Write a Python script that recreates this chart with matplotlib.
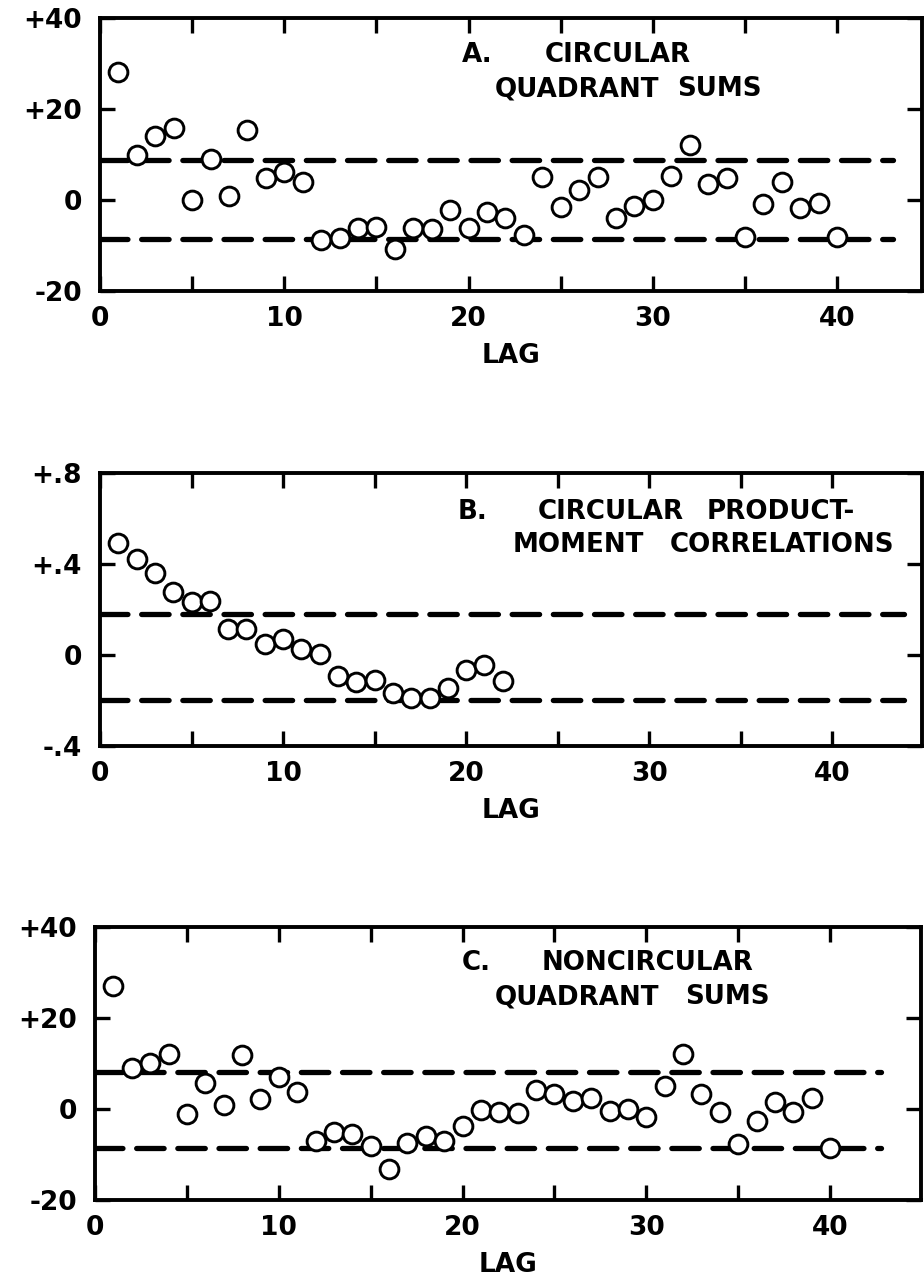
import matplotlib
matplotlib.use("Agg")
import matplotlib.pyplot as plt

# data
lags_a = list(range(1, 41))
quad_circ = [28.2, 9.9, 14.1, 15.9, 0.0, 9.0, 0.9, 15.4, 4.9, 6.2,
             4.0, -8.8, -8.4, -6.2, -5.9, -10.8, -6.1, -6.4, -2.2, -6.2,
             -2.6, -4.0, -7.7, 5.1, -1.6, 2.2, 5.1, -4.0, -1.3, 0.0,
             5.3, 12.1, 3.5, 4.8, -8.1, -0.9, 4.0, -1.8, -0.7, -8.1]
limits_a = [8.8, -8.6]

lags_b = list(range(1, 23))
corr_circ = [0.493, 0.424, 0.360, 0.279, 0.235, 0.238, 0.115, 0.115, 0.047, 0.071,
             0.025, 0.004, -0.093, -0.118, -0.110, -0.165, -0.191, -0.191, -0.147, -0.066,
             -0.044, -0.113]
limits_b = [0.181, -0.199]

lags_c = list(range(1, 41))
quad_noncirc = [27.0, 9.0, 10.1, 12.1, -1.1, 5.7, 0.9, 11.8, 2.2, 7.0,
                3.8, -7.0, -5.0, -5.4, -8.2, -13.1, -7.4, -5.9, -7.0, -3.7,
                -0.2, -0.7, -0.9, 4.2, 3.2, 1.8, 2.4, -0.5, 0.0, -1.8,
                5.1, 12.1, 3.2, -0.7, -7.6, -2.6, 1.6, -0.6, 2.4, -8.6]
limits_c = [8.1, -8.6]

quad_ticks = [-20, 0, 20, 40]
quad_labels = ["-20", "0", "+20", "+40"]
corr_ticks = [-0.4, 0.0, 0.4, 0.8]
corr_labels = ["-.4", "0", "+.4", "+.8"]

W, H = 924, 1285
FONT = "DejaVu Sans"
FS = 19
FS_T = 18.8

fig = plt.figure(figsize=(W / 100, H / 100), dpi=100)


def box(l, t, r, b):
    return [l / W, 1 - b / H, (r - l) / W, (b - t) / H]


def ftxt(s, x, y):
    # x = left edge, y = vertical centre, in image pixels
    fig.text(x / W, 1 - y / H, s, fontsize=FS_T, fontweight="bold", family=FONT,
             ha="left", va="center")


def panel(rect, xmax, lags, vals, limits, dash_end, ylim, yticks, ylabels):
    ax = fig.add_axes(rect)
    ax.set_xlim(0, xmax)
    ax.set_ylim(*ylim)
    for y in limits:
        ax.plot([0, dash_end], [y, y], color="black", lw=3.8,
                dashes=(5.2, 2.6), dash_capstyle="round", zorder=2)
    ax.plot(lags, vals, "o", ms=13.5, mfc="white", mec="black", mew=2.1,
            clip_on=False, zorder=3)
    xt = list(range(0, 45, 5))
    ax.set_xticks(xt)
    ax.set_xticklabels([str(v) if v % 10 == 0 else "" for v in xt],
                       fontsize=FS, fontweight="bold", family=FONT)
    ax.set_yticks(yticks)
    ax.set_yticklabels(ylabels, fontsize=FS, fontweight="bold", family=FONT)
    ax.tick_params(direction="in", length=11, width=2.4, top=True, right=True)
    ax.tick_params(axis="x", pad=11)
    ax.tick_params(axis="y", pad=13)
    for s in ax.spines.values():
        s.set_linewidth(2.8)
    ax.set_xlabel("LAG", fontsize=FS, fontweight="bold", family=FONT, labelpad=8)
    return ax


panel(box(100, 18, 922, 291), 44.6, lags_a, quad_circ, limits_a, 43.0,
      (-20, 40), quad_ticks, quad_labels)
ftxt("A.", 462, 55)
ftxt("CIRCULAR", 545, 55)
ftxt("QUADRANT", 495, 89)
ftxt("SUMS", 677, 89)

panel(box(100, 473, 922, 746), 44.9, lags_b, corr_circ, limits_b, 43.9,
      (-0.4, 0.8), corr_ticks, corr_labels)
ftxt("B.", 458, 512)
ftxt("CIRCULAR", 538, 512)
ftxt("PRODUCT-", 707, 512)
ftxt("MOMENT", 513, 545)
ftxt("CORRELATIONS", 670, 545)

panel(box(95, 927, 921, 1200), 44.95, lags_c, quad_noncirc, limits_c, 42.8,
      (-20, 40), quad_ticks, quad_labels)
ftxt("C.", 462, 963)
ftxt("NONCIRCULAR", 542, 963)
ftxt("QUADRANT", 495, 997)
ftxt("SUMS", 685, 997)

fig.savefig("out.png", dpi=100)
